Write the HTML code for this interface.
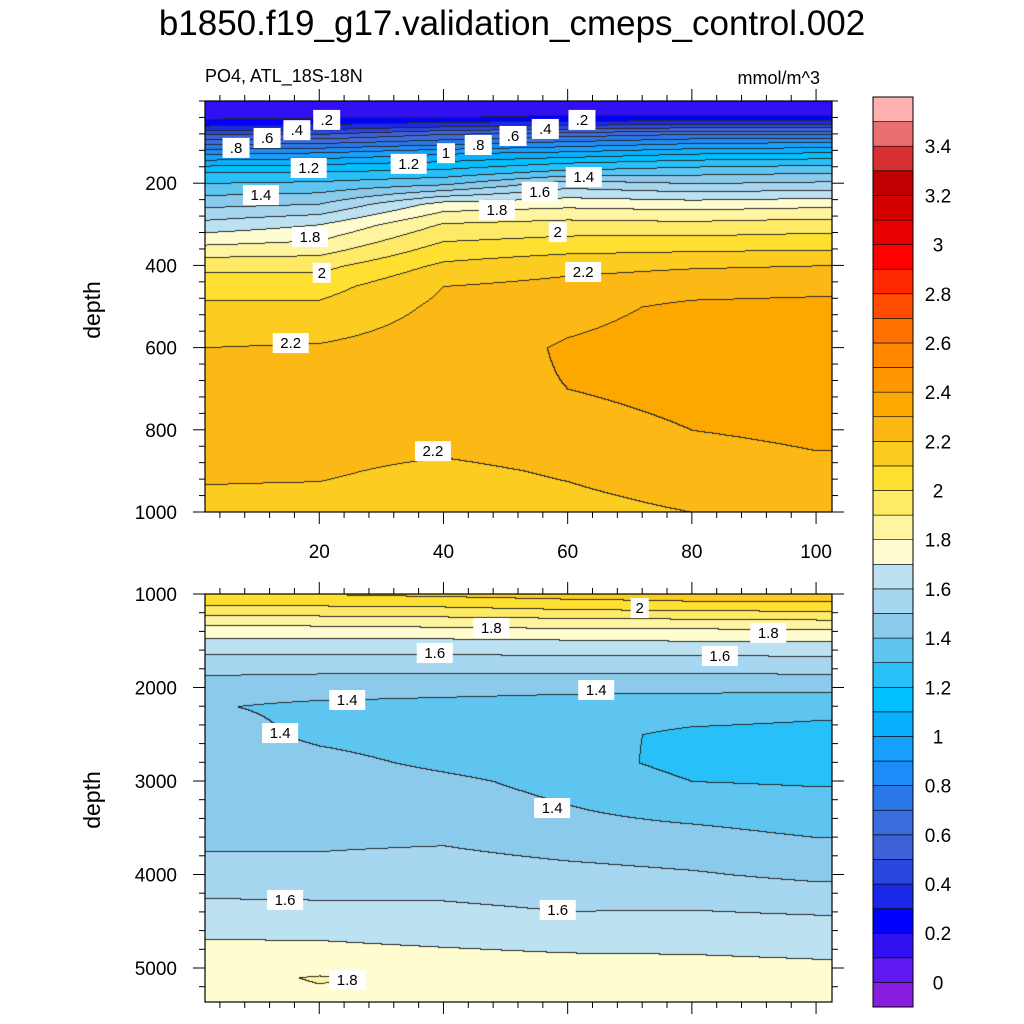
<!DOCTYPE html>
<html><head><meta charset="utf-8">
<style>
body{margin:0;background:#fff;width:1024px;height:1024px;overflow:hidden;position:relative;font-family:"Liberation Sans",sans-serif}
canvas{position:absolute}
svg{position:absolute;left:0;top:0}
</style></head>
<body>
<canvas id="c1" width="627" height="411" style="left:205px;top:101px"></canvas>
<canvas id="c2" width="627" height="408" style="left:205px;top:594px"></canvas>
<svg id="s" width="1024" height="1024">
<text x="512" y="35" font-size="35" text-anchor="middle">b1850.f19_g17.validation_cmeps_control.002</text>
<text x="205" y="82" font-size="18">PO4, ATL_18S-18N</text>
<text x="820" y="84" font-size="18" text-anchor="end">mmol/m^3</text>
<text transform="translate(100,310) rotate(-90)" font-size="23" text-anchor="middle">depth</text>
<text transform="translate(100,800) rotate(-90)" font-size="23" text-anchor="middle">depth</text>
</svg>
<script>
const colors=["#8a1ee0","#6018f0","#3010f0","#0000ff","#1a28e8","#2a48e0","#4060d8","#3a6ce0","#2a78e8","#1e8cf8","#18a0ff","#08b0ff","#00c0ff","#28c0f8","#5ec4f0","#8ccaec","#a6d6f0","#bce2f2","#fffcd0","#fff4a0","#ffea68","#ffe030","#fccc20","#fcb814","#fca800","#ff9800","#ff8800","#ff7000","#ff4c00","#ff2800","#ff0000","#e80000","#d40000","#c00000","#d83030","#e87070","#ffb0b0"];
const cbLabels=["0","0.2","0.4","0.6","0.8","1","1.2","1.4","1.6","1.8","2","2.2","2.4","2.6","2.8","3","3.2","3.4"];
const xCols=[0,20,40,60,80,100];
const topDepths=[0,40,60,80,100,125,150,175,200,250,300,350,400,450,500,600,700,800,900,1000];
const topVals=[
[0.1,0.18,0.3,0.49,0.66,0.87,1.05,1.22,1.3,1.47,1.63,1.8,1.97,2.06,2.12,2.2,2.24,2.24,2.21,2.18],
[0.1,0.2,0.32,0.5,0.68,0.9,1.08,1.22,1.32,1.5,1.7,1.83,1.97,2.06,2.12,2.21,2.24,2.24,2.21,2.17],
[0.1,0.2,0.38,0.6,0.75,0.98,1.12,1.25,1.38,1.74,1.91,2.02,2.12,2.2,2.22,2.25,2.27,2.24,2.18,2.15],
[0.1,0.22,0.42,0.65,0.82,1.02,1.2,1.35,1.55,1.77,1.94,2.05,2.17,2.23,2.27,2.31,2.3,2.26,2.21,2.17],
[0.1,0.22,0.45,0.7,0.88,1.08,1.25,1.38,1.5,1.75,1.93,2.06,2.19,2.26,2.32,2.34,2.33,2.3,2.25,2.2],
[0.1,0.22,0.45,0.7,0.9,1.1,1.27,1.4,1.52,1.77,1.95,2.07,2.2,2.27,2.33,2.35,2.34,2.32,2.28,2.21]];
const botDepths=[1000,1100,1200,1300,1400,1500,1600,1800,2000,2200,2500,2800,3000,3500,4000,4500,5000,5100,5364];
const botVals=[
[2.1,2.02,1.92,1.82,1.75,1.68,1.62,1.53,1.44,1.41,1.45,1.47,1.49,1.47,1.53,1.67,1.75,1.75,1.75],
[2.1,2.02,1.93,1.83,1.75,1.68,1.62,1.52,1.44,1.38,1.38,1.43,1.46,1.47,1.53,1.66,1.76,1.81,1.77],
[2.12,2.03,1.94,1.84,1.76,1.68,1.62,1.52,1.43,1.37,1.35,1.38,1.42,1.47,1.55,1.64,1.75,1.77,1.76],
[2.14,2.06,1.96,1.85,1.77,1.69,1.63,1.52,1.42,1.36,1.33,1.34,1.37,1.43,1.53,1.62,1.74,1.75,1.75],
[2.15,2.08,1.97,1.86,1.77,1.7,1.63,1.52,1.42,1.35,1.28,1.27,1.3,1.41,1.51,1.63,1.73,1.74,1.74],
[2.16,2.08,1.98,1.87,1.78,1.7,1.63,1.53,1.42,1.33,1.27,1.26,1.29,1.38,1.48,1.62,1.72,1.73,1.73]];
const topLabels=[[".8",6.6,114],[".6",11.6,90],[".4",16.4,71],[".2",21.2,46],[".8",45.6,107],[".6",51.2,85],[".4",56.4,68],[".2",62.3,46],["1",40.4,127],["1.2",34.4,153],["1.2",18.3,163],["1.4",10.6,229],["1.4",62.6,185],["1.6",55.5,221],["1.8",48.6,265],["1.8",18.5,331],["2",58.4,319],["2",20.4,418],["2.2",62.5,416],["2.2",15.4,589],["2.2",38.3,852]];
const botLabels=[["2",71.6,1150],["1.8",47.7,1364],["1.8",92.3,1417],["1.6",38.6,1631],["1.6",84.5,1663],["1.4",24.5,2134],["1.4",64.6,2027],["1.4",13.7,2487],["1.4",57.5,3289],["1.6",14.5,4273],["1.6",58.4,4380],["1.8",24.5,5128]];
const topYTicks=[200,400,600,800,1000];
const botYTicks=[1000,2000,3000,4000,5000];
const xTicks=[20,40,60,80,100];

const X0=205,XW=627,XPU=6.21,XMIN=1.6;
function xs(x){return X0+(x-XMIN)*XPU;}
const P1={top:101,h:411,d0:0,k:0.411};
const P2={top:594,h:408,d0:1000,k:0.0935};
function ys(p,d){return p.top+(d-p.d0)*p.k;}
function hexRGB(h){return [parseInt(h.substr(1,2),16),parseInt(h.substr(3,2),16),parseInt(h.substr(5,2),16)];}
const rgb=colors.map(hexRGB);
function interp(depths,vals,x,d){
  let i=0;while(i<xCols.length-2&&x>xCols[i+1])i++;
  let tx=(x-xCols[i])/(xCols[i+1]-xCols[i]);tx=Math.max(0,Math.min(1,tx));
  let j=0;while(j<depths.length-2&&d>depths[j+1])j++;
  let ty=(d-depths[j])/(depths[j+1]-depths[j]);ty=Math.max(0,Math.min(1,ty));
  const a=vals[i][j]*(1-ty)+vals[i][j+1]*ty, b=vals[i+1][j]*(1-ty)+vals[i+1][j+1]*ty;
  return a*(1-tx)+b*tx;
}
function lvl(v){return Math.max(0,Math.min(36,Math.floor(v*10+1e-9)+1));}
function render(id,p,depths,vals){
  const c=document.getElementById(id),ctx=c.getContext('2d'),W=c.width,H=c.height;
  const img=ctx.createImageData(W,H),L=new Int16Array(W*H);
  for(let py=0;py<H;py++){const d=p.d0+(py+0.5)/p.k;
    for(let px=0;px<W;px++){const x=XMIN+(px+0.5)/XPU;L[py*W+px]=lvl(interp(depths,vals,x,d));}}
  for(let py=0;py<H;py++)for(let px=0;px<W;px++){
    const k=py*W+px;let col=rgb[L[k]];
    if((px>0&&L[k-1]!==L[k])||(py>0&&L[k-W]!==L[k]))col=[40,40,40];
    img.data[k*4]=col[0];img.data[k*4+1]=col[1];img.data[k*4+2]=col[2];img.data[k*4+3]=255;}
  ctx.putImageData(img,0,0);
}
render('c1',P1,topDepths,topVals);
render('c2',P2,botDepths,botVals);

const NS="http://www.w3.org/2000/svg",S=document.getElementById('s');
function el(t,a,txt){const e=document.createElementNS(NS,t);for(const k in a)e.setAttribute(k,a[k]);if(txt!==undefined)e.textContent=txt;S.appendChild(e);return e;}
function panel(p,yTicks,minorStep,dmax,showX,nm){
  const f=el('rect',{x:X0,y:p.top,width:XW,height:p.h,fill:'none',stroke:'#000','stroke-width':1.2});
  
  
  const bot=p.top+p.h;
  for(let x=4;x<=102;x+=4){const X=xs(x),major=x%20===0,len=major?12:6;
    el('line',{x1:X,y1:p.top,x2:X,y2:p.top-len,stroke:'#000'});
    el('line',{x1:X,y1:bot,x2:X,y2:bot+len,stroke:'#000'});}
  if(showX)xTicks.forEach(x=>{const t=el('text',{x:xs(x),y:bot+46,'font-size':19,'text-anchor':'middle'},String(x));
    
    });
  for(let d=p.d0;d<=dmax;d+=minorStep){const Y=ys(p,d);if(Y>bot+0.5)break;
    const major=yTicks.includes(d),len=major?12:6;
    el('line',{x1:X0,y1:Y,x2:X0-len,y2:Y,stroke:'#000'});
    el('line',{x1:X0+XW,y1:Y,x2:X0+XW+len,y2:Y,stroke:'#000'});}
  yTicks.forEach(d=>{const t=el('text',{x:X0-28,y:ys(p,d)+7,'font-size':19,'text-anchor':'end'},String(d));
    
    });
}
panel(P1,topYTicks,40,1000,true,'upper-panel');
panel(P2,botYTicks,200,5400,false,'lower-panel');
function labels(p,arr){arr.forEach(a=>{const X=xs(a[1]),Y=ys(p,a[2]),w=a[0].length*9+9;
  const r=el('rect',{x:X-w/2,y:Y-10,width:w,height:20,fill:'#fff'});
  
  
  const t=el('text',{x:X,y:Y+5,'font-size':15,'text-anchor':'middle'},a[0]);
  
  });}
labels(P1,topLabels);labels(P2,botLabels);
const CB0=1007,BH=910/37;
colors.forEach((c,i)=>{const r=el('rect',{x:873,y:CB0-(i+1)*BH,width:40,height:BH,fill:c,stroke:'#000','stroke-width':0.6});
  
  });
el('rect',{x:873,y:97,width:40,height:910,fill:'none',stroke:'#000','stroke-width':1});
cbLabels.forEach(l=>{const v=parseFloat(l),Y=CB0-(Math.round(v*10)+1)*BH;
  const t=el('text',{x:938,y:Y+7,'font-size':19,'text-anchor':'middle'},l);
  
  });
</script>
</body></html>
